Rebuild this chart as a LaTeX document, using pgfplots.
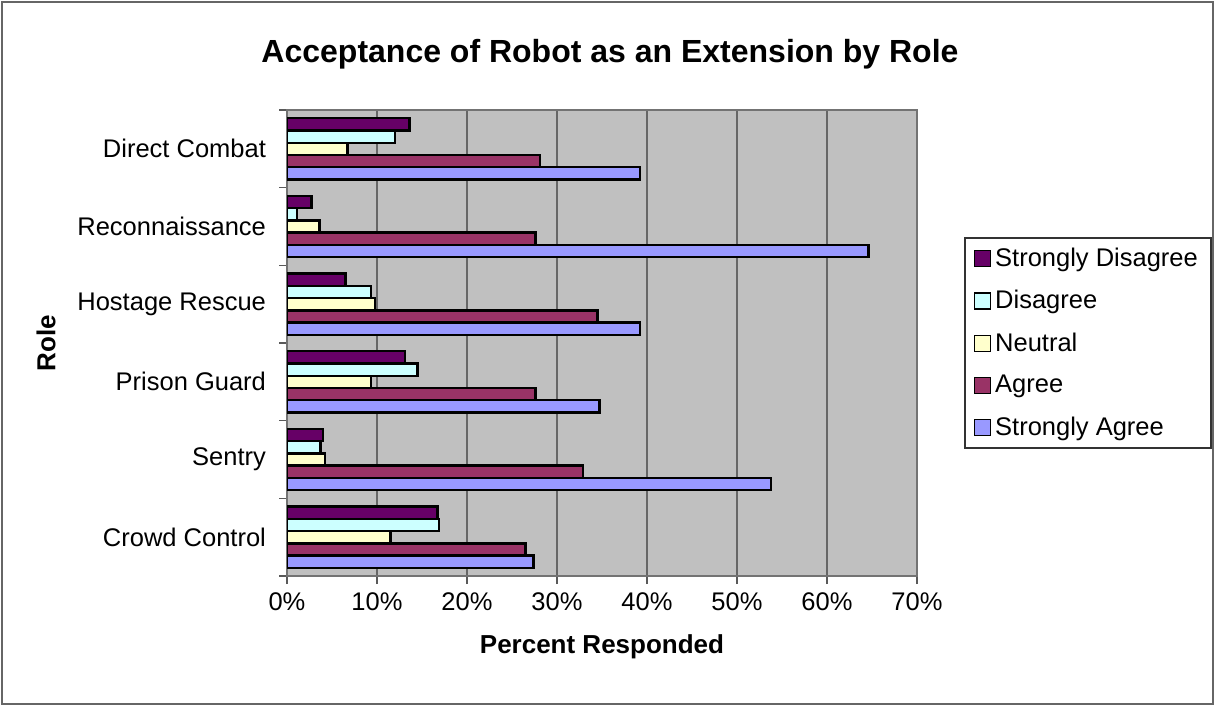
\documentclass[border=0pt]{standalone}
\usepackage{pgfplots}
\pgfplotsset{compat=1.18}
\usepackage{pgfplotstable}
\usepackage{fontspec}
\setmainfont{Liberation Sans}
\definecolor{cSD}{HTML}{660066}
\definecolor{cD}{HTML}{CCFFFF}
\definecolor{cN}{HTML}{FFFFCC}
\definecolor{cA}{HTML}{993366}
\definecolor{cSA}{HTML}{9999FF}
\definecolor{bgray}{HTML}{C0C0C0}
\pgfplotstableread{
y SD D N A SA
0 16.7 16.9 11.5 26.5 27.4
1 4.0 3.7 4.2 32.9 53.8
2 13.1 14.5 9.3 27.6 34.7
3 6.5 9.3 9.8 34.5 39.2
4 2.7 1.1 3.6 27.6 64.6
5 13.6 12.0 6.7 28.1 39.2
}\data
\pgfplotsset{sq/.style={legend image code/.code={\draw[##1, line width=0.7pt] (0pt,-4pt) rectangle (8pt,4pt);}}}
\begin{document}
\begin{tikzpicture}
\path[use as bounding box] (0,0) rectangle (607.5pt,-353pt);
\draw[black!60, line width=0.9pt] (1pt,-1pt) rectangle (606.5pt,-352pt);
\begin{axis}[
  at={(143.5pt,-288pt)}, anchor=south west,
  scale only axis, width=315pt, height=233pt,
  xbar=0pt, bar width=0.158,
  xmin=0, xmax=70, ymin=-0.5, ymax=5.5,
  axis background/.style={fill=bgray},
  xtick={0,10,...,70},
  xticklabels={0\%,10\%,20\%,30\%,40\%,50\%,60\%,70\%},
  ytick={0,...,5},
  yticklabels={Crowd Control,Sentry,Prison Guard,Hostage Rescue,Reconnaissance,Direct Combat},
  minor ytick={-0.5,0.5,...,5.5},
  every major y tick/.style={draw=none},
  tick align=outside, tick pos=left,
  major tick length=4pt, minor tick length=4pt,
  tick style={draw=black!65, line width=0.6pt},
  xmajorgrids,
  major grid style={draw=black!60, line width=0.6pt},
  axis line style={draw=black!55, line width=0.7pt},
  tick label style={font=\fontsize{12.75}{15}\selectfont},
  yticklabel style={xshift=-3pt},
  xticklabel style={yshift=-1pt},
  title={Acceptance of Robot as an Extension by Role},
  title style={font=\fontsize{16}{19}\selectfont\bfseries, at={(axis description cs:0.5127,1.093)}, anchor=center},
  xlabel={Percent Responded},
  xlabel style={font=\fontsize{13}{15}\selectfont\bfseries, at={(axis description cs:0.5,-0.152)}, anchor=center},
  ylabel={Role},
  ylabel style={font=\fontsize{13}{15}\selectfont\bfseries, at={(axis description cs:-0.3825,0.5)}, anchor=center},
  reverse legend,
  legend style={at={(axis description cs:1.0746,0.7275)}, anchor=north west,
    draw=black!80, line width=0.8pt, fill=white,
    font=\fontsize{12.75}{15}\selectfont, row sep=6.5pt,
    inner xsep=4.5pt, inner ysep=3pt, cells={anchor=west},
    nodes={inner sep=2pt}},
]
\addplot[fill=cSA, draw=black, line width=1.2pt, sq] table[x=SA,y=y]{\data};
\addlegendentry{Strongly Agree}
\addplot[fill=cA, draw=black, line width=1.2pt, sq] table[x=A,y=y]{\data};
\addlegendentry{Agree}
\addplot[fill=cN, draw=black, line width=1.2pt, sq] table[x=N,y=y]{\data};
\addlegendentry{Neutral}
\addplot[fill=cD, draw=black, line width=1.2pt, sq] table[x=D,y=y]{\data};
\addlegendentry{Disagree}
\addplot[fill=cSD, draw=black, line width=1.2pt, sq] table[x=SD,y=y]{\data};
\addlegendentry{Strongly Disagree}
\end{axis}
\end{tikzpicture}
\end{document}
